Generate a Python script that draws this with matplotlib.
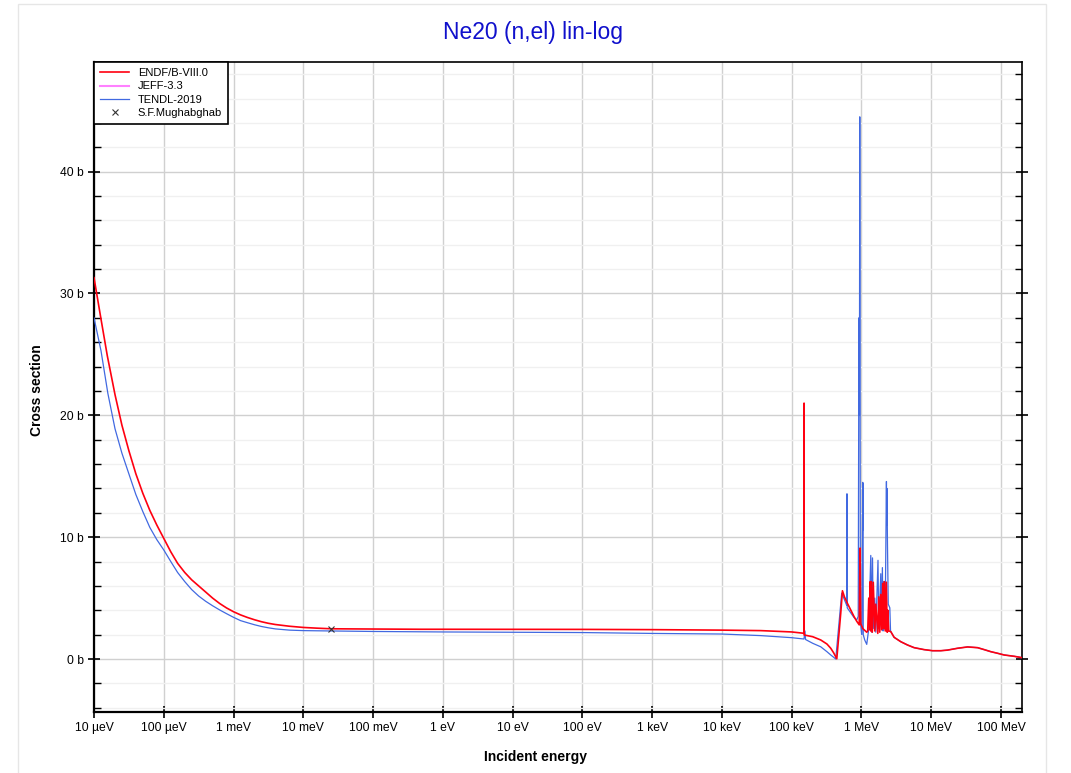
import matplotlib
matplotlib.use('Agg')
import matplotlib.pyplot as plt
from matplotlib.patches import Rectangle
from matplotlib.ticker import FixedLocator, MultipleLocator

plt.rcParams['font.family'] = ['Liberation Sans', 'DejaVu Sans']

# ENDF/B-VIII.0 elastic cross section (energy in eV, sigma in barn)
endf_e = [1e-5, 1.26e-5, 1.55e-5, 2.0e-5, 2.51e-5, 3.16e-5, 3.98e-5, 5.01e-5, 6.31e-5,
          7.94e-5, 1e-4, 1.26e-4, 1.58e-4, 2.0e-4, 2.51e-4, 3.16e-4, 3.98e-4, 5.01e-4,
          6.31e-4, 7.94e-4, 1e-3, 1.26e-3, 1.58e-3, 2.0e-3, 2.51e-3, 3.16e-3, 3.98e-3,
          6.31e-3, 1e-2, 1.58e-2, 0.0253, 0.1, 0.48, 1.0, 1e2, 1e3, 1e4, 3.6e4, 1e5, 1.5e5,
          1.505e5, 1.51e5, 2.0e5, 2.61e5, 3.2e5, 3.63e5, 4.0e5, 4.43e5, 5.05e5, 5.34e5,
          5.7e5, 6.29e5, 7.83e5,
          8.55e5, 9.29e5, 9.55e5, 9.77e5, 1.044e6, 1.19e6,
          1.23e6, 1.273e6, 1.316e6, 1.337e6, 1.36e6, 1.381e6, 1.428e6, 1.476e6, 1.552e6,
          1.604e6, 1.714e6, 1.771e6, 1.829e6, 1.892e6, 1.954e6, 2.019e6, 2.07e6, 2.122e6,
          2.193e6, 2.269e6, 2.344e6, 2.383e6, 2.463e6, 2.63e6, 2.94e6,
          3.66e6, 4.57e6, 5.69e6, 7.9e6, 1.045e7, 1.37e7, 1.71e7, 2.38e7, 3.32e7, 4.62e7,
          5.74e7, 7.16e7, 8.93e7, 1.11e8, 1.55e8, 2e8]
endf_xs = [31.3, 27.9, 24.9, 21.7, 19.2, 17.1, 15.2, 13.6, 12.2,
           11.0, 9.9, 8.8, 7.85, 7.1, 6.5, 6.0, 5.5, 5.0,
           4.56, 4.19, 3.88, 3.62, 3.41, 3.22, 3.06, 2.93, 2.83,
           2.69, 2.59, 2.53, 2.48, 2.46, 2.44, 2.44, 2.43, 2.41, 2.37, 2.33, 2.22, 2.11,
           21.0, 1.97, 1.83, 1.56, 1.23, 0.88, 0.5, 0.02, 3.78, 5.6,
           5.1, 4.57, 3.48,
           3.1, 2.8, 9.1, 2.9, 2.5, 2.2,
           2.3, 5.0, 2.4, 6.35, 2.3, 6.35, 2.2, 6.3, 2.3,
           4.5, 2.1, 5.1, 2.2, 5.3, 2.4, 6.2, 2.5, 6.35,
           2.3, 6.3, 2.2, 4.0, 2.3, 2.25, 1.78,
           1.42, 1.15, 0.93, 0.77, 0.68, 0.68, 0.73, 0.88, 0.99, 0.93,
           0.77, 0.60, 0.47, 0.33, 0.22, 0.11]

# TENDL-2019
tendl_e = [1e-5, 1.26e-5, 1.58e-5, 2.0e-5, 2.51e-5, 3.16e-5, 3.98e-5, 5.01e-5, 6.31e-5,
           7.94e-5, 1e-4, 1.26e-4, 1.58e-4, 2.0e-4, 2.51e-4, 3.16e-4, 3.98e-4, 5.01e-4,
           6.31e-4, 7.94e-4, 1e-3, 1.26e-3, 1.58e-3, 2.0e-3, 2.51e-3, 3.16e-3, 3.98e-3,
           6.31e-3, 1e-2, 0.0253, 0.1, 1.0, 1e2, 1e3, 1e4, 3.6e4, 1e5, 1.5e5,
           1.55e5, 1.58e5, 2.0e5, 2.61e5, 3.2e5, 3.63e5, 4.0e5, 4.28e5, 5.21e5, 5.4e5,
           6.15e5, 6.2e5, 6.25e5, 7.83e5, 8.55e5, 8.99e5, 9.2e5, 9.25e5, 9.3e5, 9.35e5,
           9.46e5, 9.65e5, 1.01e6,
           1.044e6, 1.05e6, 1.055e6, 1.06e6, 1.114e6, 1.19e6,
           1.273e6, 1.36e6, 1.4e6, 1.44e6, 1.476e6, 1.552e6, 1.604e6, 1.726e6,
           1.771e6, 1.892e6, 1.94e6, 1.995e6, 2.04e6, 2.085e6, 2.18e6, 2.28e6,
           2.3e6, 2.32e6, 2.36e6, 2.42e6, 2.55e6, 2.61e6, 2.63e6, 2.94e6,
           3.66e6, 4.57e6, 5.69e6, 7.9e6, 1.045e7, 1.37e7, 1.71e7, 2.38e7, 3.32e7, 4.62e7,
           5.74e7, 7.16e7, 8.93e7, 1.11e8, 1.55e8, 2e8]
tendl_xs = [28.0, 25.3, 21.8, 18.9, 16.9, 15.2, 13.5, 12.1, 10.8,
            9.8, 8.95, 8.0, 7.1, 6.35, 5.7, 5.17, 4.74, 4.37,
            4.03, 3.72, 3.42, 3.15, 2.98, 2.81, 2.67, 2.56, 2.47,
            2.37, 2.33, 2.30, 2.26, 2.22, 2.17, 2.1, 2.05, 1.92, 1.75, 1.64,
            2.3, 1.6, 1.29, 1.0, 0.6, 0.33, 0.14, 0.0, 5.4, 5.2,
            4.4, 13.56, 4.2, 3.4, 3.2, 3.5, 28.0, 20.0, 27.0, 20.0,
            44.5, 3.0, 2.0,
            14.5, 10.6, 14.4, 2.0, 1.56, 1.2,
            2.5, 8.5, 2.2, 8.3, 2.5, 5.0, 2.2, 8.1,
            2.5, 7.0, 2.4, 7.5, 2.3, 6.35, 2.4, 14.57,
            11.0, 14.0, 9.4, 4.5, 4.2, 2.3, 2.25, 1.78,
            1.42, 1.15, 0.93, 0.77, 0.68, 0.68, 0.73, 0.88, 0.99, 0.93,
            0.77, 0.60, 0.47, 0.33, 0.22, 0.11]

# S.F.Mughabghab thermal value
mug_e = [0.0253]
mug_xs = [2.45]

x_ticks = [1e-5, 1e-4, 1e-3, 1e-2, 1e-1, 1, 10, 100, 1e3, 1e4, 1e5, 1e6, 1e7, 1e8]
x_labels = ['10 µeV', '100 µeV', '1 meV', '10 meV', '100 meV', '1 eV', '10 eV',
            '100 eV', '1 keV', '10 keV', '100 keV', '1 MeV', '10 MeV', '100 MeV']
y_ticks = [0, 10, 20, 30, 40]
y_labels = ['0 b', '10 b', '20 b', '30 b', '40 b']

W, H = 1071, 773
fig = plt.figure(figsize=(W / 100, H / 100), dpi=100)
fig.patches.append(Rectangle((18 / W, -0.01), (1046 - 18) / W, 1 - 4 / H + 0.01,
                             transform=fig.transFigure, fill=False,
                             edgecolor='#e6e6e6', lw=1))
ax = fig.add_axes([94 / W, (H - 712) / H, (1022 - 94) / W, (712 - 62) / H])

ax.plot(tendl_e, tendl_xs, color='#4169e1', lw=0.9, label='TENDL-2019', zorder=3)
ax.plot([], [], color='#ff80ff', lw=1.5, label='JEFF-3.3')
ax.plot(endf_e, endf_xs, color='#ff0010', lw=1.2, label='ENDF/B-VIII.0', zorder=4)
ax.plot(mug_e, mug_xs, 'x', color='#333333', ms=5, mew=0.8, label='S.F.Mughabghab',
        zorder=5)

ax.set_xscale('log')
ax.set_xlim(1e-5, 2e8)
ax.set_ylim(-4.35, 49.0)

ax.xaxis.set_major_locator(FixedLocator(x_ticks))
ax.set_xticklabels(x_labels)
ax.xaxis.set_minor_locator(FixedLocator([]))
ax.yaxis.set_major_locator(FixedLocator(y_ticks))
ax.set_yticklabels(y_labels)
ax.yaxis.set_minor_locator(MultipleLocator(2))

ax.tick_params(which='major', direction='inout', length=9, width=1.2, labelsize=8.7,
               top=False, right=True, pad=3)
ax.tick_params(which='minor', direction='in', length=5, width=1, right=True)

ax.grid(which='major', color='#d0d0d0', lw=1)
ax.grid(which='minor', axis='y', color='#f0f0f0', lw=1)
ax.set_axisbelow(True)

for s in ['left', 'bottom']:
    ax.spines[s].set_linewidth(1.6)
for s in ['top', 'right']:
    ax.spines[s].set_linewidth(1.2)

fig.text(535 / W, 1 - 757 / H, 'Incident energy', ha='center', va='center',
         fontsize=10, fontweight='bold')
fig.text(37 / W, 1 - 390 / H, 'Cross section', ha='center', va='center',
         rotation=90, fontsize=10, fontweight='bold')
fig.text(533 / W, 1 - 33 / H, 'Ne20 (n,el) lin-log', ha='center', va='center',
         fontsize=16.5, color='#1010cc')

handles, labels = ax.get_legend_handles_labels()
order = [2, 1, 0, 3]
leg = ax.legend([handles[i] for i in order], [labels[i] for i in order],
                loc='upper left', borderaxespad=0, fancybox=False, fontsize=8,
                edgecolor='black', framealpha=1, handlelength=2.6,
                handletextpad=0.8, labelspacing=0.3, borderpad=0.55)
leg.get_frame().set_linewidth(1.2)

fig.savefig('out.png', dpi=100)
